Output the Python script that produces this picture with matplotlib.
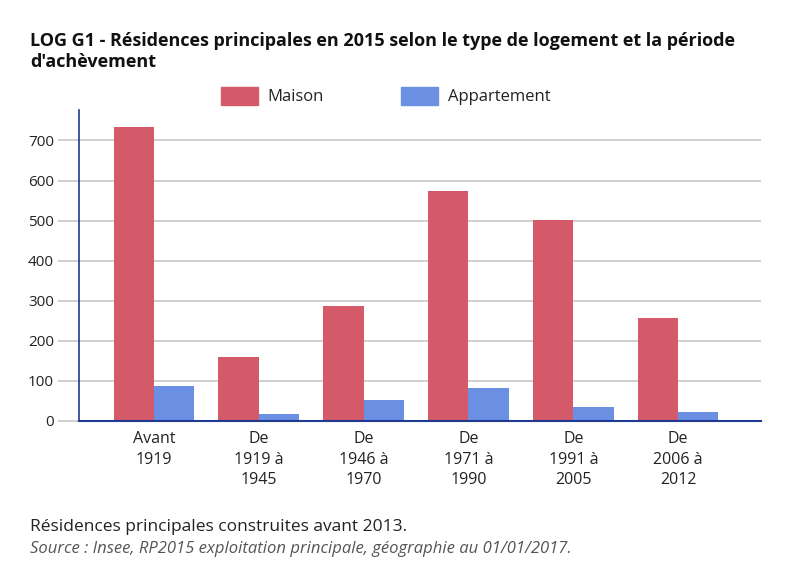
import matplotlib
matplotlib.use("Agg")
import matplotlib.pyplot as plt
import numpy as np
from matplotlib.patches import Patch

plt.rcParams['font.family'] = ['Open Sans', 'DejaVu Sans']

# data
periodes = ["Avant\n1919", "De\n1919 à\n1945", "De\n1946 à\n1970",
            "De\n1971 à\n1990", "De\n1991 à\n2005", "De\n2006 à\n2012"]
maison = [733, 160, 287, 574, 501, 258]
appartement = [87, 18, 52, 83, 34, 22]
yticks = [0, 100, 200, 300, 400, 500, 600, 700]

col_maison = '#d45a69'
col_appart = '#6a8fe3'
col_axis = '#1f3a8f'

fig = plt.figure(figsize=(7.92, 5.65), dpi=100)
ax = fig.add_axes([0.0997, 0.2549, 0.8611, 0.5504])

x = np.arange(len(periodes))
w = 0.385
ax.bar(x - w / 2, maison, w, color=col_maison, zorder=3)
ax.bar(x + w / 2, appartement, w, color=col_appart, zorder=3)

ax.set_xlim(-0.716, 5.79)
ax.set_ylim(0, 776)
ax.set_yticks(yticks)
ax.set_xticks(x)
ax.set_xticklabels(periodes, fontsize=11.5, color='#222222', linespacing=1.4)
ax.tick_params(axis='x', length=0, pad=7)
ax.tick_params(axis='y', length=15, color='#c8c8c8', width=1.2, labelsize=11,
               labelcolor='#222222', pad=3)
ax.yaxis.grid(True, color='#c8c8c8', linewidth=1.2, zorder=0)

for s in ['top', 'right']:
    ax.spines[s].set_visible(False)
ax.spines['left'].set_color(col_axis)
ax.spines['bottom'].set_color(col_axis)
ax.spines['left'].set_linewidth(1.2)
ax.spines['bottom'].set_linewidth(1.5)
ax.spines['bottom'].set_zorder(4)

handles = [Patch(color=col_maison, label='Maison'),
           Patch(color=col_appart, label='Appartement')]
fig.legend(handles=handles, loc='center', bbox_to_anchor=(0.487, 0.830),
           ncol=2, frameon=False, fontsize=12, handlelength=2.2,
           handleheight=1.3, handletextpad=0.6, columnspacing=4.6,
           labelcolor='#222222')

fig.text(0.038, 0.944, "LOG G1 - Résidences principales en 2015 selon le type de logement et la période\nd'achèvement",
         fontsize=13, fontweight='bold', color='#111111', va='top',
         linespacing=1.25)
fig.text(0.038, 0.068, "Résidences principales construites avant 2013.",
         fontsize=12.5, color='#222222', va='center')
fig.text(0.038, 0.029, "Source : Insee, RP2015 exploitation principale, géographie au 01/01/2017.",
         fontsize=12, color='#555555', style='italic', va='center')

fig.savefig('out.png', dpi=100)
